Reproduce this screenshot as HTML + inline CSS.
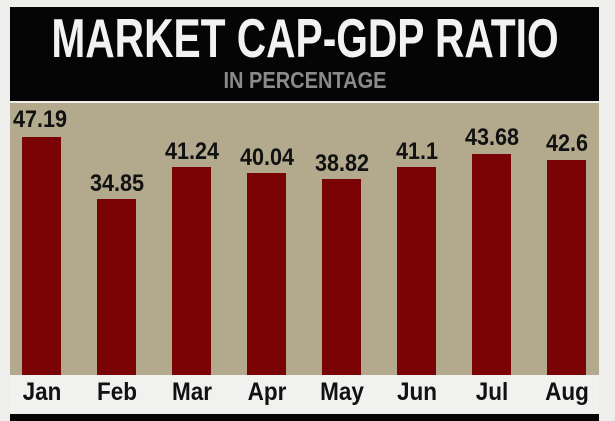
<!DOCTYPE html>
<html><head><style>
body{margin:0;width:615px;height:421px;background:#eeeeec;position:relative;overflow:hidden;font-family:"Liberation Sans",sans-serif;font-weight:bold}
.a{position:absolute}
.hd{left:10px;top:7px;width:589px;height:94px;background:#050505}
.t{left:-200px;width:1010px;text-align:center;white-space:nowrap}
.plot{left:10px;top:103px;width:589px;height:272px;background:#b3aa8e}
.bar{position:absolute;width:39px;background:#7a0306;bottom:46px}
.v{position:absolute;width:80px;text-align:center;font-size:24px;color:#111;transform:scaleX(0.9)}
.m{position:absolute;width:80px;text-align:center;font-size:25px;color:#111;top:378px;transform:scaleX(0.9)}
</style></head><body>
<div class="a hd"></div>
<div class="a t" style="top:8px;font-size:55px;line-height:60px;color:#f2f2f2;transform:scaleX(0.74)">MARKET CAP-GDP RATIO</div>
<div class="a t" style="top:67px;font-size:23px;color:#8a8a8a;transform:scaleX(0.87)">IN PERCENTAGE</div>
<div class="a plot"></div>
<div class="a" style="left:10px;top:375px;width:589px;height:38px;background:#f1f1ef"></div>
<div class="a" style="left:10px;top:414px;width:589px;height:7px;background:#050505"></div>

<div class="bar" style="left:22px;top:137px"></div>
<div class="bar" style="left:97px;top:199px"></div>
<div class="bar" style="left:172px;top:167px"></div>
<div class="bar" style="left:247px;top:173px"></div>
<div class="bar" style="left:322px;top:179px"></div>
<div class="bar" style="left:397px;top:167px"></div>
<div class="bar" style="left:472px;top:154px"></div>
<div class="bar" style="left:547px;top:160px"></div>

<div class="v" style="left:0px;top:106px">47.19</div>
<div class="v" style="left:77px;top:170px">34.85</div>
<div class="v" style="left:152px;top:138px">41.24</div>
<div class="v" style="left:227px;top:144px">40.04</div>
<div class="v" style="left:302px;top:150px">38.82</div>
<div class="v" style="left:377px;top:138px">41.1</div>
<div class="v" style="left:452px;top:124px">43.68</div>
<div class="v" style="left:527px;top:130px">42.6</div>

<div class="m" style="left:2px">Jan</div>
<div class="m" style="left:77px">Feb</div>
<div class="m" style="left:152px">Mar</div>
<div class="m" style="left:227px">Apr</div>
<div class="m" style="left:302px">May</div>
<div class="m" style="left:377px">Jun</div>
<div class="m" style="left:452px">Jul</div>
<div class="m" style="left:527px">Aug</div>
</body></html>
